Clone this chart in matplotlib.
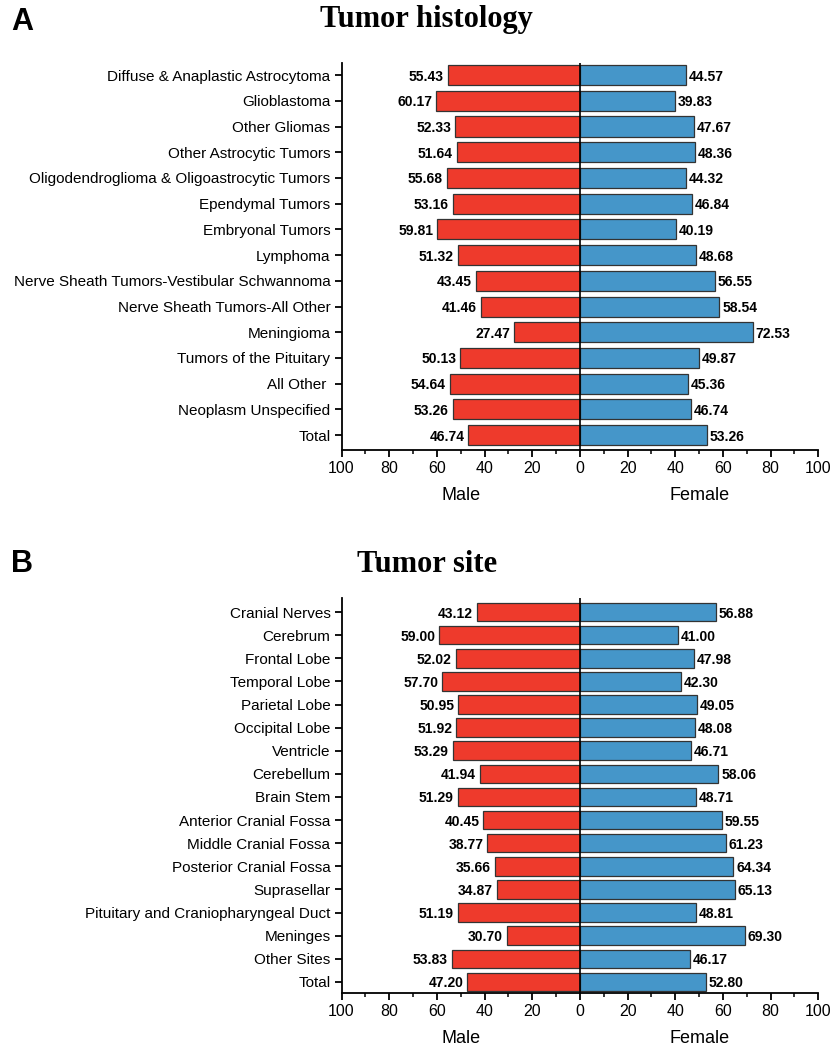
import matplotlib
matplotlib.use("Agg")
import matplotlib.pyplot as plt
from matplotlib.ticker import MultipleLocator

plt.rcParams['font.family'] = ['Liberation Sans', 'DejaVu Sans']

# Panel A: tumor histology (% of cases)
hist_labels = ["Diffuse & Anaplastic Astrocytoma", "Glioblastoma", "Other Gliomas",
               "Other Astrocytic Tumors", "Oligodendroglioma & Oligoastrocytic Tumors",
               "Ependymal Tumors", "Embryonal Tumors", "Lymphoma",
               "Nerve Sheath Tumors-Vestibular Schwannoma", "Nerve Sheath Tumors-All Other",
               "Meningioma", "Tumors of the Pituitary", "All Other ", "Neoplasm Unspecified",
               "Total"]
hist_male = [55.43, 60.17, 52.33, 51.64, 55.68, 53.16, 59.81, 51.32, 43.45, 41.46,
             27.47, 50.13, 54.64, 53.26, 46.74]
hist_female = [44.57, 39.83, 47.67, 48.36, 44.32, 46.84, 40.19, 48.68, 56.55, 58.54,
               72.53, 49.87, 45.36, 46.74, 53.26]

# Panel B: tumor site (% of cases)
site_labels = ["Cranial Nerves", "Cerebrum", "Frontal Lobe", "Temporal Lobe", "Parietal Lobe",
               "Occipital Lobe", "Ventricle", "Cerebellum", "Brain Stem",
               "Anterior Cranial Fossa", "Middle Cranial Fossa", "Posterior Cranial Fossa",
               "Suprasellar", "Pituitary and Craniopharyngeal Duct", "Meninges",
               "Other Sites", "Total"]
site_male = [43.12, 59.00, 52.02, 57.70, 50.95, 51.92, 53.29, 41.94, 51.29, 40.45,
             38.77, 35.66, 34.87, 51.19, 30.70, 53.83, 47.20]
site_female = [56.88, 41.00, 47.98, 42.30, 49.05, 48.08, 46.71, 58.06, 48.71, 59.55,
               61.23, 64.34, 65.13, 48.81, 69.30, 46.17, 52.80]

RED = "#EE3A2C"
BLUE = "#4596C9"


def pyramid(ax, labels, male, female, bar_h, top_pad, bot_pad):
    n = len(labels)
    y = list(range(n))
    ax.barh(y, [-m for m in male], height=bar_h, color=RED, edgecolor="#333333", linewidth=0.9)
    ax.barh(y, female, height=bar_h, color=BLUE, edgecolor="#333333", linewidth=0.9)
    for yi, m, f in zip(y, male, female):
        ax.annotate(f"{m:.2f}", (-m, yi), xytext=(-3, 0), textcoords="offset points",
                    ha="right", va="center_baseline", fontsize=10, fontweight="bold")
        ax.annotate(f"{f:.2f}", (f, yi), xytext=(2, 0), textcoords="offset points",
                    ha="left", va="center_baseline", fontsize=10, fontweight="bold")
    ax.axvline(0, color="black", linewidth=1.2)
    ax.set_xlim(-100, 100)
    ax.set_ylim(n - 1 + bot_pad, -top_pad)
    ax.set_yticks(y)
    ax.set_yticklabels(labels, fontsize=11)
    ax.xaxis.set_minor_locator(MultipleLocator(10))
    ax.set_xticks(range(-100, 101, 20))
    ax.set_xticklabels([str(abs(v)) for v in range(-100, 101, 20)], fontsize=11.5)
    ax.tick_params(axis="x", which="major", length=5, width=1.3, direction="out", pad=3)
    ax.tick_params(axis="x", which="minor", length=3, width=1.1, direction="out")
    ax.tick_params(axis="y", length=5, width=1.3, direction="out", pad=3)
    for s in ["top", "right"]:
        ax.spines[s].set_visible(False)
    for s in ["left", "bottom"]:
        ax.spines[s].set_linewidth(1.3)
    for x, txt in [(-50, "Male"), (50, "Female")]:
        ax.annotate(txt, (x, 0), xycoords=ax.get_xaxis_transform(), xytext=(0, -33),
                    textcoords="offset points", ha="center", va="center", fontsize=13)


fig = plt.figure(figsize=(8.35, 10.5), dpi=100)
ax1 = fig.add_axes([0.409, 0.5714, 0.571, 0.3686])
ax2 = fig.add_axes([0.409, 0.0543, 0.571, 0.376])

pyramid(ax1, hist_labels, hist_male, hist_female, 0.78, 0.47, 0.58)
pyramid(ax2, site_labels, site_male, site_female, 0.8, 0.6, 0.48)

serif = ["Liberation Serif", "DejaVu Serif"]
fig.text(0.511, 0.981, "Tumor histology", fontsize=22, fontweight="bold", family=serif,
         ha="center", va="center")
fig.text(0.511, 0.462, "Tumor site", fontsize=22, fontweight="bold", family=serif,
         ha="center", va="center")

fig.text(0.013, 0.979, "A", fontsize=22, fontweight="bold", va="center")
fig.text(0.013, 0.463, "B", fontsize=22, fontweight="bold", va="center")

fig.savefig("out.png", dpi=100)
